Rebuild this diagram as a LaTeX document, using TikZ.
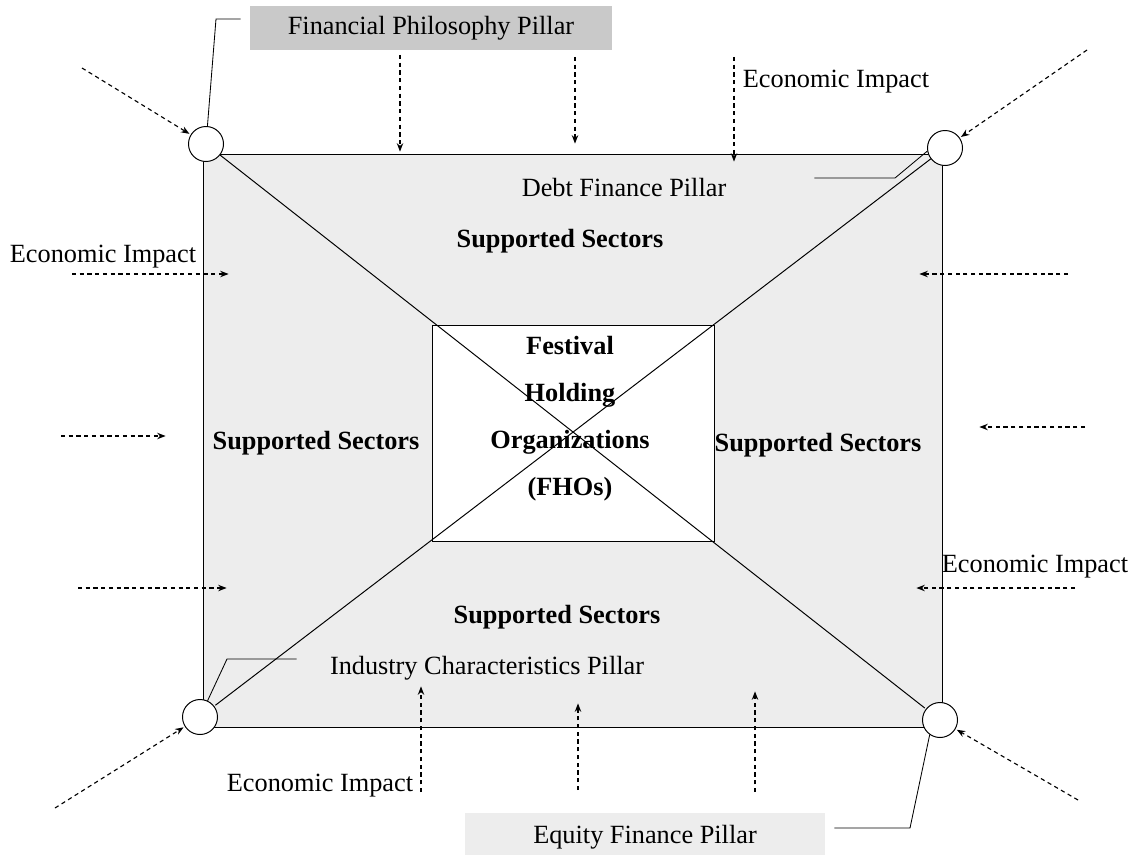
\documentclass[tikz,border=0pt]{standalone}
\usepackage{fontspec}
\setmainfont{Liberation Serif}
\usetikzlibrary{arrows,arrows.meta}
\definecolor{sheet}{gray}{0.93}
\definecolor{fpgray}{gray}{0.79}
\definecolor{eqgray}{gray}{0.93}

\begin{document}
\begin{tikzpicture}[x=0.025cm,y=-0.025cm,>={Stealth[length=6pt,width=4.6pt]},
                    shorten >=1pt,line width=0.7pt]
  \tikzstyle{every node}=[font=\fontsize{18.7}{22}\selectfont]
  \tikzstyle{corner}=[draw,circle,fill=white,minimum size=0.875cm,inner sep=0pt]
  \tikzstyle{impact}=[->,line width=0.8pt,dash pattern=on 3pt off 2.5pt]
  \tikzstyle{leader}=[line width=0.6pt]
  \tikzstyle{sector}=[font=\bfseries\fontsize{18.7}{22}\selectfont]
  \tikzstyle{pillarbox}=[minimum width=9.05cm,minimum height=1.1cm,inner sep=0pt]
  \useasboundingbox (0,0) rectangle (1141,854);

  % frame and centre box
  \draw[fill=sheet] (203,154) rectangle (942,727);
  \node[draw,fill=white,minimum width=7.025cm,minimum height=5.375cm]
       (hub) at (573.5,433.5) {};
  \node[corner] (tl) at (206,144) {};
  \node[corner] (tr) at (945,148) {};
  \node[corner] (bl) at (200,717) {};
  \node[corner] (br) at (940,720) {};
  \draw (tl) -- (br);
  \draw (tr) -- (bl);

  % texts
  \node[align=center,font=\bfseries\fontsize{18.7}{33.4}\selectfont]
       (fho) at (570,419) {Festival\\Holding\\Organizations\\(FHOs)};
  \node[sector] (secT) at (560,241) {Supported Sectors};
  \node[sector] (secL) at (316,443) {Supported Sectors};
  \node[sector] (secR) at (818,445) {Supported Sectors};
  \node[sector] (secB) at (557,617) {Supported Sectors};
  \node[pillarbox,fill=fpgray] (fpp) at (431,28) {Financial Philosophy Pillar};
  \node[pillarbox,fill=eqgray,minimum width=9cm,minimum height=1.2cm]
       (efp) at (645,837) {Equity Finance Pillar};
  \node (dfp) at (624,188) {Debt Finance Pillar};
  \node (icp) at (487,668) {Industry Characteristics Pillar};
  \node (eiT) at (836,82) {Economic Impact};
  \node (eiL) at (103,257) {Economic Impact};
  \node (eiR) at (1035,567) {Economic Impact};
  \node (eiB) at (320,786) {Economic Impact};

  % leaders from the pillars to the corners
  \coordinate (fpEnd) at (242,19);
  \coordinate (dfEnd) at (813,178);
  \coordinate (icEnd) at (298,659);
  \coordinate (efEnd) at (833,828);
  \draw[leader] (tl) -- (216,19) -- (fpEnd);
  \draw[leader] (tr.190) -- (895,178) -- (dfEnd);
  \draw[leader] (bl) -- (227,659) -- (icEnd);
  \draw[leader] (br.235) -- (910,828) -- (efEnd);

  % economic impact arrows
  \foreach \n/\xa/\ya in {tlA/82/68, trA/1087/50, blA/55/808, brA/1078/800}
    \coordinate (\n) at (\xa,\ya);
  \draw[impact] (tlA) -- (tl);
  \draw[impact] (trA) -- (tr);
  \draw[impact] (blA) -- (bl);
  \draw[impact] (brA) -- (br);
  \foreach \n/\xa/\ya/\xb/\yb in {t1/400/55/400/153, t2/575/57/575/145,
      t3/734/57/734/163, l1/72/274/230/274, l2/61/436/167/436,
      l3/78/588/228/588, r1/1068/274/918/274, r2/1085/427/978/427,
      r3/1075/588/915/588, b1/421/792/421/685, b2/578/790/578/702,
      b3/755/792/755/690} {
    \coordinate (\n s) at (\xa,\ya);
    \coordinate (\n e) at (\xb,\yb);
    \draw[impact] (\n s) -- (\n e);
  }
\end{tikzpicture}
\end{document}
